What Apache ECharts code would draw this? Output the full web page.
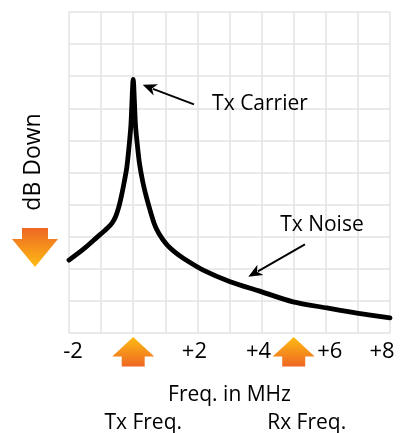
<!DOCTYPE html>
<html>
<head>
<meta charset="utf-8">
<script src="https://cdn.jsdelivr.net/npm/echarts@6/dist/echarts.min.js"></script>
<style>
  html, body { margin: 0; padding: 0; background: #fff; }
  #chart { width: 400px; height: 433px; }
</style>
</head>
<body>
<div id="chart"></div>
<script>
// Transmit spectrum: carrier spike at 0 MHz with the noise skirt falling off on both sides
const freqMHz = [-2, -1.55, -1.14, -0.8, -0.66, -0.55, -0.45, -0.36, -0.28, -0.2, -0.13, -0.07, 0,
                 0.07, 0.13, 0.2, 0.3, 0.42, 0.65, 0.8, 1.04, 1.3, 1.56, 2.18, 3.02, 3.89, 4.98, 6.04, 6.97, 8];
const level = [2.27, 2.61, 2.97, 3.27, 3.42, 3.62, 3.92, 4.3, 4.7, 5.15, 5.8, 6.5, 7.9,
               6.5, 5.85, 5.25, 4.7, 4.2, 3.42, 3.1, 2.76, 2.52, 2.33, 1.96, 1.6, 1.32, 0.97, 0.78, 0.62, 0.47];

// Frequency axis tick labels (0 MHz is marked by the Tx arrow instead)
const xTickValues = [-2, 2, 4, 6, 8];
const xTickLabels = ['-2', '+2', '+4', '+6', '+8'];

// Marker positions on the frequency axis
const txFreq = 0;
const rxFreq = 5;

// Callout anchors in data units: [tail, tip]
const carrierArrow = [[1.894, 7.12], [0.296, 7.73]];
const noiseArrow = [[5.35, 2.76], [3.585, 1.75]];

const FONT = '"Open Sans", sans-serif';
const INK = '#000';

const chart = echarts.init(document.getElementById('chart'), null, { renderer: 'canvas' });

// small horizontal nudges so the tick labels sit like a hand-set axis
const labelNudge = { '-2': 4, '+2': -3, '+4': -3, '+6': 4, '+8': -8 };

const rich = {};
xTickLabels.forEach(function (t, i) {
  const n = labelNudge[t] || 0;
  rich['l' + i] = {
    fontFamily: FONT, fontSize: 22, color: INK,
    padding: n >= 0 ? [0, 0, 0, 2 * n] : [0, -2 * n, 0, 0]
  };
});

chart.setOption({
  animation: false,
  grid: { left: 69, right: 10, top: 12, bottom: 100 },
  xAxis: {
    type: 'value', min: -2, max: 8, interval: 1,
    name: 'Freq. in MHz', nameLocation: 'middle', nameGap: 52,
    nameTextStyle: { fontFamily: FONT, fontSize: 21, color: INK },
    axisLine: { show: false }, axisTick: { show: false },
    splitLine: { show: true, lineStyle: { color: '#e3e3e3', width: 1.5 } },
    axisLabel: {
      margin: 8, showMinLabel: true, showMaxLabel: true,
      formatter: function (v) {
        const i = xTickValues.indexOf(Math.round(v * 1000) / 1000);
        return i >= 0 ? '{l' + i + '|' + xTickLabels[i] + '}' : '';
      },
      rich: rich
    }
  },
  yAxis: {
    type: 'value', min: 0, max: 10, interval: 1,
    axisLine: { show: false }, axisTick: { show: false }, axisLabel: { show: false },
    splitLine: { show: true, lineStyle: { color: '#e3e3e3', width: 1.5 } }
  },
  series: [{
    type: 'line',
    data: freqMHz.map(function (f, i) { return [f, level[i]]; }),
    showSymbol: false,
    smooth: 0.25,
    lineStyle: { color: '#000', width: 4.8, cap: 'round', join: 'round' }
  }]
});

function px(x, y) { return chart.convertToPixel({ gridIndex: 0 }, [x, y]); }

// thin callout line with a filled triangular head at the tip
function callout(tailData, tipData) {
  const a = px(tailData[0], tailData[1]);
  const b = px(tipData[0], tipData[1]);
  const dx = b[0] - a[0], dy = b[1] - a[1];
  const len = Math.sqrt(dx * dx + dy * dy);
  const ux = dx / len, uy = dy / len;
  const headLen = 14, headHalf = 6;
  const bx = b[0] - ux * headLen, by = b[1] - uy * headLen;
  return [
    { type: 'line', shape: { x1: a[0], y1: a[1], x2: bx + ux * 3, y2: by + uy * 3 },
      style: { stroke: '#000', lineWidth: 1.8 } },
    { type: 'polygon', shape: { points: [
        [b[0], b[1]],
        [bx - uy * headHalf, by + ux * headHalf],
        [bx + ux * 4, by + uy * 4],
        [bx + uy * headHalf, by - ux * headHalf]
      ] }, style: { fill: '#000' } }
  ];
}

const upFill = new echarts.graphic.LinearGradient(0, 0, 0, 1, [
  { offset: 0, color: '#fdbb14' }, { offset: 1, color: '#ee6723' }
]);
const downFill = new echarts.graphic.LinearGradient(0, 0, 0, 1, [
  { offset: 0, color: '#ee6723' }, { offset: 1, color: '#fdbb14' }
]);

// block arrow pointing up at a frequency below the axis
function upArrow(freq) {
  const cx = px(freq, 0)[0];
  const top = 337, neck = 356.5, bottom = 366.5, hh = 21, sh = 11.5;
  return { type: 'polygon', shape: { points: [
    [cx, top], [cx + hh, neck], [cx + sh, neck], [cx + sh, bottom],
    [cx - sh, bottom], [cx - sh, neck], [cx - hh, neck]
  ] }, style: { fill: upFill } };
}

const dCx = 35, dTop = 228, dNeck = 239, dTip = 267;
const downArrow = { type: 'polygon', shape: { points: [
  [dCx - 13, dTop], [dCx + 13, dTop], [dCx + 13, dNeck], [dCx + 23, dNeck],
  [dCx, dTip], [dCx - 23, dNeck], [dCx - 13, dNeck]
] }, style: { fill: downFill } };

function label(text, x, y, size, extra) {
  return Object.assign({ type: 'text', x: x, y: y, style: {
    text: text, fontFamily: FONT, fontSize: size, fill: INK,
    align: 'center', verticalAlign: 'middle'
  } }, extra || {});
}

const txX = px(txFreq, 0)[0];
const rxX = px(rxFreq, 0)[0];
const carrierTail = px(carrierArrow[0][0], carrierArrow[0][1]);
const noiseTail = px(noiseArrow[0][0], noiseArrow[0][1]);

chart.setOption({
  graphic: [].concat(
    callout(carrierArrow[0], carrierArrow[1]),
    callout(noiseArrow[0], noiseArrow[1]),
    [
      upArrow(txFreq),
      upArrow(rxFreq),
      downArrow,
      label('Tx Carrier', carrierTail[0] + 66, carrierTail[1], 21),
      label('Tx Noise', noiseTail[0] + 17, noiseTail[1] - 19, 21),
      label('Tx Freq.', txX + 10, 423, 21),
      label('Rx Freq.', rxX + 13, 423, 21),
      label('dB Down', 33, 162, 23, { rotation: Math.PI / 2 })
    ]
  )
});
</script>
</body>
</html>
